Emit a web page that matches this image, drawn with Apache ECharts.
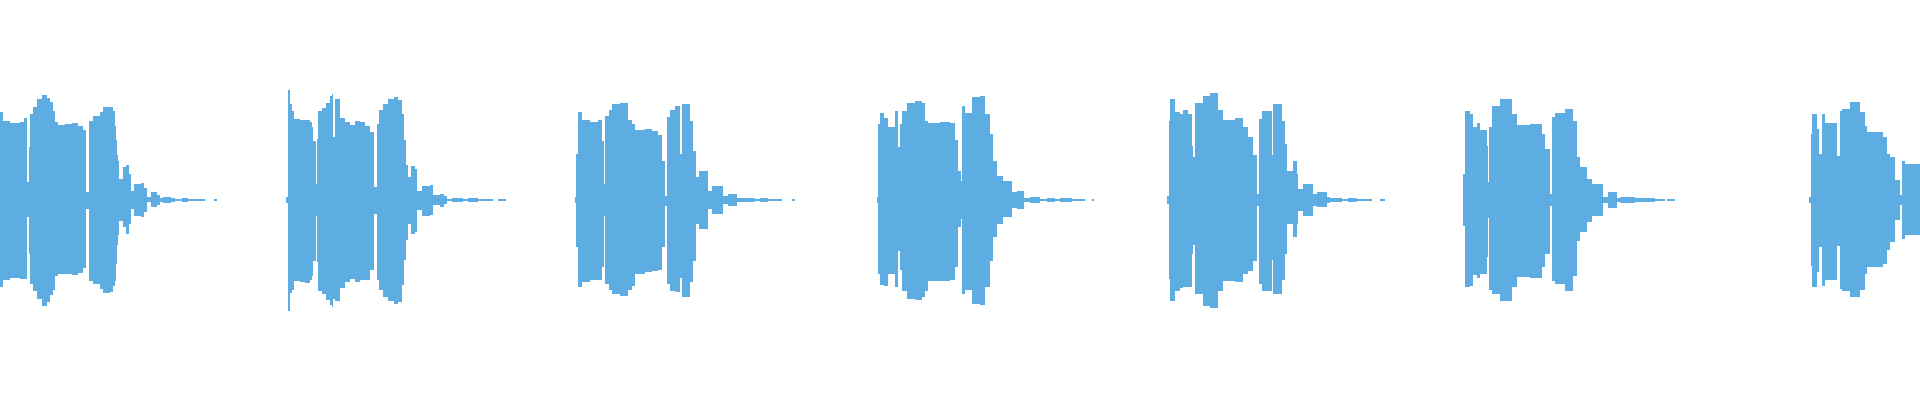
<!DOCTYPE html>
<html>
<head>
<meta charset="utf-8">
<script src="https://cdn.jsdelivr.net/npm/echarts@6/dist/echarts.min.js"></script>
<style>
html,body{margin:0;padding:0;background:#ffffff;}
#chart{width:1920px;height:400px;}
</style>
</head>
<body>
<div id="chart"></div>
<script>
// Waveform envelope. Time in column units (0..1920),
// upper = positive peak amplitude, lower = magnitude of negative peak amplitude.
// Each value holds from its time until the next time in the list.
const burst1Time  = [0,3,10,20,24,27,29,30,33,37,42,47,50,53,55,58,65,72,78,83,86,89,93,100,103,110,113,115,116,117,118,119,123,126,129,131,134,141,144,147,151,157,160,163,171,175,182,188,205,214,217];
const burst1Upper = [88,79,77,78,82,18,53,86,93,101,105,102,98,89,78,75,76,77,74,70,8,79,84,88,93,93,89,74,60,45,39,21,33,35,26,9,16,17,12,3,8,5,2,3,2,1,2,1,0,1,0];
const burst1Lower = [87,80,78,79,79,17,54,84,91,99,106,102,95,90,76,74,74,75,73,68,9,81,84,89,93,92,86,81,64,45,35,21,27,34,24,9,16,17,12,2,7,5,2,3,2,1,2,1,0,1,0];

const burst2Time  = [286,288,290,292,294,300,305,310,312,313,316,317,318,322,326,330,332,333,335,340,345,350,355,360,365,370,374,377,379,383,388,394,398,402,404,406,408,411,415,417,422,430,433,440,444,447,452,463,468,478,483,493,498,506];
const burst2Upper = [3,110,96,89,81,80,80,78,73,59,16,61,89,92,97,104,106,63,101,82,78,75,79,78,74,68,13,76,90,96,101,103,100,86,60,35,23,34,31,9,14,15,5,6,4,1,2,1,2,1,1,0,1,0];
const burst2Lower = [3,111,93,90,81,82,83,80,76,61,16,62,91,94,100,105,107,99,101,88,82,79,82,80,80,70,14,80,90,97,101,104,102,85,60,40,24,34,32,10,16,15,5,7,4,1,2,1,2,1,1,0,1,0];

const burst3Time  = [575,576,578,582,590,598,602,604,605,609,612,620,628,632,635,645,652,658,662,665,667,670,675,680,682,690,693,696,699,708,712,723,728,737,755,760,768,782,792,795];
const burst3Upper = [3,46,88,80,78,80,59,16,84,90,96,97,80,76,70,71,69,65,39,4,83,90,94,46,96,79,49,23,29,9,14,4,6,2,1,2,1,0,1,0];
const burst3Lower = [3,47,87,82,80,80,67,16,84,90,94,96,90,86,74,72,71,70,47,6,84,91,92,78,97,82,61,24,29,9,14,4,6,2,1,2,1,0,1,0];

const burst4Time  = [877,878,880,884,888,895,898,900,902,907,915,922,925,928,940,950,955,958,961,962,965,972,980,985,990,993,997,1003,1012,1017,1024,1030,1040,1047,1055,1060,1072,1085,1092,1094];
const burst4Upper = [3,76,87,82,73,89,53,76,89,97,99,97,79,77,78,77,60,29,19,94,87,103,104,86,66,39,24,19,8,9,2,3,1,2,1,2,1,0,1,0];
const burst4Lower = [3,74,85,86,74,87,51,70,91,99,100,97,91,81,81,80,67,27,19,94,90,104,105,87,61,37,24,17,8,9,2,3,1,2,1,2,1,0,1,0];

const burst5Time  = [1167,1169,1170,1175,1180,1183,1188,1192,1193,1195,1203,1210,1218,1223,1235,1243,1248,1253,1257,1259,1262,1272,1273,1282,1285,1287,1293,1297,1298,1303,1313,1317,1327,1330,1342,1348,1357,1372,1380,1385];
const burst5Upper = [4,79,101,88,86,90,86,54,43,97,104,107,90,80,82,73,63,45,6,81,89,45,96,79,56,29,39,26,11,16,6,8,3,2,1,2,1,0,1,0];
const burst5Lower = [4,79,101,91,88,87,87,54,45,94,106,108,91,81,82,74,71,61,6,84,91,60,94,80,54,24,37,24,11,16,6,7,3,2,1,2,1,0,1,0];

const burst6Time  = [1463,1465,1470,1473,1477,1480,1487,1488,1489,1492,1500,1512,1517,1530,1542,1545,1550,1552,1555,1565,1573,1577,1580,1587,1592,1603,1608,1617,1620,1635,1655,1665,1667,1675];
const burst6Upper = [26,89,86,73,77,70,54,18,73,94,101,86,75,76,66,51,6,83,87,91,79,43,33,21,16,3,8,2,3,2,1,0,1,0];
const burst6Lower = [26,87,86,75,78,74,57,18,90,94,101,87,77,78,67,54,6,81,84,91,76,41,32,22,16,3,8,2,3,2,1,0,1,0];

const burst7Time  = [1809,1811,1812,1817,1819,1822,1825,1837,1840,1842,1850,1860,1865,1867,1883,1887,1890,1895,1900,1902,1905,1920];
const burst7Upper = [3,66,86,71,46,86,77,44,89,91,98,88,74,68,63,46,43,20,5,39,36,36];
const burst7Lower = [3,66,87,72,47,86,80,46,89,91,97,90,74,67,64,50,42,20,5,39,35,35];

const times  = [].concat(burst1Time, burst2Time, burst3Time, burst4Time, burst5Time, burst6Time, burst7Time);
const uppers = [].concat(burst1Upper, burst2Upper, burst3Upper, burst4Upper, burst5Upper, burst6Upper, burst7Upper);
const lowers = [].concat(burst1Lower, burst2Lower, burst3Lower, burst4Lower, burst5Lower, burst6Lower, burst7Lower);

// segments: [start, end, upper, -lower]
const segments = [];
for (let i = 0; i < times.length - 1; i++) {
  if (uppers[i] === 0 && lowers[i] === 0) continue;
  segments.push([times[i], times[i + 1], uppers[i], -lowers[i]]);
}

const color = '#5DADE2';
const chart = echarts.init(document.getElementById('chart'), null, {renderer: 'canvas'});
chart.setOption({
  animation: false,
  backgroundColor: '#ffffff',
  grid: {left: 0, right: 0, top: 0, bottom: 0},
  xAxis: {type: 'value', min: 0, max: 1920, show: false},
  yAxis: {type: 'value', min: -200, max: 200, show: false},
  series: [{
    type: 'custom',
    name: 'waveform',
    silent: true,
    encode: {x: [0, 1], y: [2, 3]},
    data: segments,
    renderItem: function (params, api) {
      const p0 = api.coord([api.value(0), api.value(2)]);
      const p1 = api.coord([api.value(1), api.value(3)]);
      return {
        type: 'rect',
        shape: {x: p0[0], y: p0[1], width: p1[0] - p0[0], height: p1[1] - p0[1]},
        style: {fill: color, stroke: null}
      };
    }
  }]
});
</script>
</body>
</html>
